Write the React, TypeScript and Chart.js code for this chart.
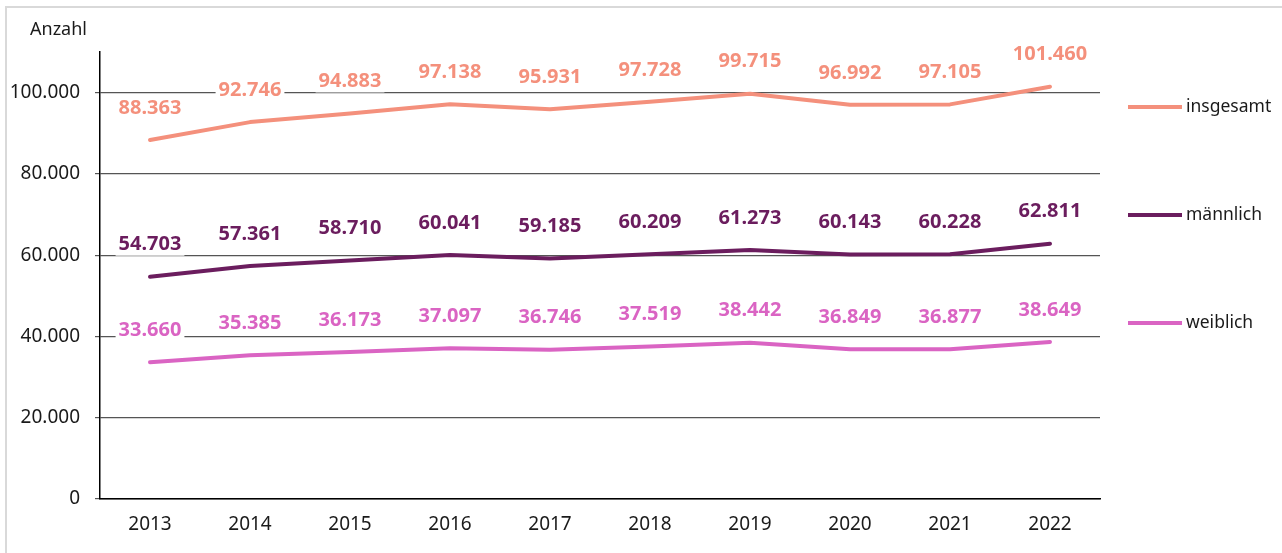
import React, { useEffect, useRef } from "react";
import { Chart, registerables } from "chart.js";

Chart.register(...registerables);

const years = ["2013", "2014", "2015", "2016", "2017", "2018", "2019", "2020", "2021", "2022"];
const insgesamt = [88363, 92746, 94883, 97138, 95931, 97728, 99715, 96992, 97105, 101460];
const maennlich = [54703, 57361, 58710, 60041, 59185, 60209, 61273, 60143, 60228, 62811];
const weiblich = [33660, 35385, 36173, 37097, 36746, 37519, 38442, 36849, 36877, 38649];
const seriesNames = ["insgesamt", "männlich", "weiblich"];
const seriesColors = ["#F4907C", "#6B1D5E", "#DA64C3"];
const yTickValues = [0, 20000, 40000, 60000, 80000, 100000];
const yAxisTitle = "Anzahl";

const FONT = "'Noto Sans', sans-serif";

const fmt = (v: number) => String(Math.round(v)).replace(/\B(?=(\d{3})+(?!\d))/g, ".");

const overlayPlugin = {
  id: "overlay",
  afterDatasetsDraw(chart: any) {
    const ctx = chart.ctx;
    ctx.save();
    ctx.font = `bold 20px ${FONT}`;
    ctx.textAlign = "center";
    ctx.textBaseline = "middle";
    chart.data.datasets.forEach((ds: any, i: number) => {
      const meta = chart.getDatasetMeta(i);
      meta.data.forEach((pt: any, j: number) => {
        const text = fmt(ds.data[j]);
        const x = pt.x;
        const y = pt.y - 33;
        const w = ctx.measureText(text).width + 6;
        ctx.fillStyle = "#ffffff";
        ctx.fillRect(x - w / 2, y - 12, w, 24);
        ctx.fillStyle = seriesColors[i];
        ctx.fillText(text, x, y + 1);
      });
    });
    ctx.restore();
  },
  afterDraw(chart: any) {
    const ctx = chart.ctx;
    const area = chart.chartArea;
    ctx.save();
    ctx.font = `18px ${FONT}`;
    ctx.fillStyle = "#1a1a1a";
    ctx.textAlign = "left";
    ctx.textBaseline = "middle";
    ctx.fillText(yAxisTitle, 30, 30);
    const offsets = [55, 163, 271];
    seriesNames.forEach((name, i) => {
      const y = area.top + offsets[i];
      ctx.strokeStyle = seriesColors[i];
      ctx.lineWidth = 4;
      ctx.lineCap = "butt";
      ctx.beginPath();
      ctx.moveTo(area.right + 28, y);
      ctx.lineTo(area.right + 82, y);
      ctx.stroke();
      ctx.font = `17.5px ${FONT}`;
      ctx.fillStyle = "#1a1a1a";
      ctx.textAlign = "left";
      ctx.textBaseline = "middle";
      ctx.fillText(name, area.right + 86, y);
    });
    ctx.restore();
  },
};

export default function App() {
  const ref = useRef<HTMLCanvasElement | null>(null);

  useEffect(() => {
    if (!ref.current) return;
    const seriesData = [insgesamt, maennlich, weiblich];
    const chart = new Chart(ref.current, {
      type: "line",
      data: {
        labels: years,
        datasets: seriesNames.map((name, i) => ({
          label: name,
          data: seriesData[i],
          borderColor: seriesColors[i],
          backgroundColor: seriesColors[i],
          borderWidth: 4,
          pointRadius: 0,
          pointHoverRadius: 0,
          tension: 0,
          fill: false,
          borderCapStyle: "round",
          borderJoinStyle: "round",
        })),
      },
      options: {
        responsive: false,
        animation: false,
        events: [],
        layout: { padding: { top: 52, right: 182, left: 0, bottom: 0 } },
        plugins: {
          legend: { display: false },
          tooltip: { enabled: false },
          title: { display: false },
        },
        scales: {
          x: {
            type: "category",
            offset: true,
            grid: { display: false, drawTicks: false, tickLength: 0 },
            border: { display: true, color: "#000000", width: 1.5 },
            ticks: {
              color: "#1a1a1a",
              font: { family: FONT, size: 19 },
              padding: 14,
              maxRotation: 0,
            },
            afterFit(scale: any) {
              scale.height = 54;
            },
          },
          y: {
            min: 0,
            max: 110000,
            afterBuildTicks(scale: any) {
              scale.ticks = yTickValues.map((v) => ({ value: v }));
            },
            grid: {
              color: "#555555",
              lineWidth: 1.2,
              drawTicks: true,
              tickLength: 5,
            },
            border: { display: true, color: "#000000", width: 1.5 },
            ticks: {
              color: "#1a1a1a",
              font: { family: FONT, size: 19 },
              padding: 15,
              callback: (v: any) => fmt(Number(v)),
            },
            afterFit(scale: any) {
              scale.width = 100;
            },
          },
        },
      },
      plugins: [overlayPlugin],
    } as any);
    return () => chart.destroy();
  }, []);

  return (
    <div style={{ position: "fixed", left: 0, top: 0, width: 1282, height: 553, overflow: "hidden", background: "#ffffff" }}>
      <div
        style={{
          position: "absolute",
          left: 5,
          top: 6,
          width: 1300,
          height: 600,
          border: "2px solid #d9d9d9",
          boxSizing: "border-box",
        }}
      />
      <canvas ref={ref} width={1282} height={553} style={{ position: "absolute", left: 0, top: 0 }} />
    </div>
  );
}
